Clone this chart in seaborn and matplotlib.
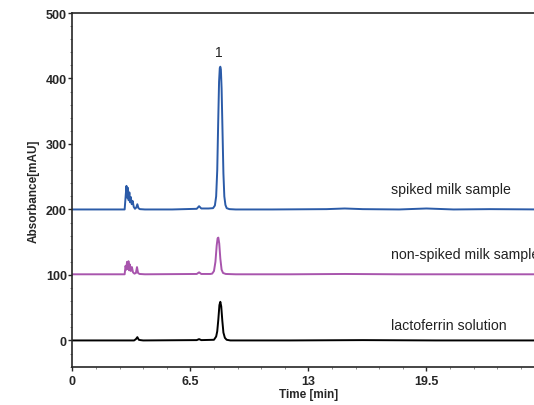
import matplotlib
matplotlib.use('Agg')
import matplotlib.pyplot as plt
import numpy as np
import pandas as pd
import seaborn as sns
from matplotlib.ticker import MultipleLocator

sns.set_style('ticks')
plt.rcParams['font.family'] = ['Liberation Sans', 'DejaVu Sans']

# spiked milk sample (blue trace), time [min] / absorbance [mAU]
spiked_t = [0, 1.5, 2.88, 2.94, 2.98, 3.02, 3.06, 3.1, 3.14, 3.18, 3.22, 3.27, 3.32,
            3.38, 3.45, 3.52, 3.58, 3.64, 3.72, 4.0, 5.5, 6.85, 6.98, 7.1, 7.5, 7.75,
            7.85, 7.92, 7.98, 8.03, 8.08, 8.12, 8.15, 8.18, 8.22, 8.27, 8.32, 8.37,
            8.43, 8.5, 8.65, 9.0, 11, 14, 15, 16, 18, 19.5, 21, 23, 26]
spiked_y = [200, 200, 200, 222, 236, 218, 233, 214, 226, 211, 219, 208, 213,
            204, 201, 203, 208, 202, 200.5, 200, 200, 201, 205, 201.5, 201.5, 202,
            206, 220, 260, 330, 395, 416, 418, 414, 385, 320, 255, 220,
            207, 202, 200.5, 200, 200, 200.5, 201.5, 200.5, 200, 201.5, 200, 200.5, 200]

# non-spiked milk sample (purple trace)
nonspiked_t = [0, 1.5, 2.88, 2.93, 2.97, 3.01, 3.05, 3.09, 3.13, 3.17, 3.22, 3.28,
               3.34, 3.42, 3.5, 3.56, 3.62, 3.7, 4.0, 6.85, 6.98, 7.1, 7.6, 7.7,
               7.8, 7.88, 7.95, 8.0, 8.04, 8.09, 8.15, 8.22, 8.3, 8.45, 9.0, 12,
               15, 18, 21, 26]
nonspiked_y = [101, 101, 101, 114, 108, 120, 109, 121, 107, 116, 106, 112,
               104, 102, 103, 112, 103, 101.5, 101, 101.5, 104, 101.5, 101.5, 102,
               106, 120, 145, 156, 157, 148, 125, 108, 103, 101.5, 101, 101,
               101.5, 101, 101, 101]

# lactoferrin solution (black trace)
lacto_t = [0, 2.0, 3.4, 3.5, 3.58, 3.66, 3.75, 3.9, 6.85, 6.98, 7.1, 7.8, 7.92, 7.98,
           8.04, 8.1, 8.15, 8.2, 8.26, 8.32, 8.4, 8.5, 8.7, 12, 16, 20, 26]
lacto_y = [0, 0, 0, 2, 5, 1, 0.5, 0, 0.5, 2, 0.5, 1, 6, 14,
           32, 54, 59, 52, 30, 12, 4, 1, 0, 0, 0.5, 0, 0]

labels = ['spiked milk sample', 'non-spiked milk sample', 'lactoferrin solution']
label_pos = [(17.55, 231), (17.55, 132), (17.55, 24)]
peak_label = ('1', 8.05, 440)
colors = ['#2b5ba8', '#a855ad', '#000000']

df = pd.concat([
    pd.DataFrame({'t': spiked_t, 'a': spiked_y, 's': labels[0]}),
    pd.DataFrame({'t': nonspiked_t, 'a': nonspiked_y, 's': labels[1]}),
    pd.DataFrame({'t': lacto_t, 'a': lacto_y, 's': labels[2]}),
])

fig = plt.figure(figsize=(5.34, 4.06), dpi=100)
ax = fig.add_axes([0.1355, 0.0945, 0.884, 0.871])
sns.lineplot(data=df, x='t', y='a', hue='s', palette=colors, linewidth=1.4,
             legend=False, estimator=None, sort=False, ax=ax)

# the reference image is cropped on the right, so the last label runs off the edge
for (lx, ly), txt in zip(label_pos, labels):
    ax.text(lx, ly, txt, fontsize=10.2, color='#222222', va='center', ha='left')
ax.text(peak_label[1], peak_label[2], peak_label[0], fontsize=10, color='#222222',
        ha='center', va='center')

ax.set_xlim(0, 26)
ax.set_ylim(-40, 500)
ax.set_xticks([0, 6.5, 13, 19.5])
ax.set_xticklabels(['0', '6.5', '13', '19.5'])
ax.set_yticks([0, 100, 200, 300, 400, 500])
ax.xaxis.set_minor_locator(MultipleLocator(1.3))
ax.yaxis.set_minor_locator(MultipleLocator(20))
ax.tick_params(which='major', length=3, width=1, labelsize=9)
ax.tick_params(axis='x', which='major', pad=3)
ax.tick_params(axis='y', which='major', pad=1)
ax.tick_params(which='minor', length=1.5, width=0.6, color='#777777')
for lab in ax.get_xticklabels() + ax.get_yticklabels():
    lab.set_fontweight('bold')
ax.set_xlabel('Time [min]', fontsize=8.5, fontweight='bold', labelpad=1)
ax.set_ylabel('Absorbance[mAU]', fontsize=8.5, fontweight='bold', labelpad=4)
for sp in ax.spines.values():
    sp.set_linewidth(1.2)
    sp.set_visible(True)

fig.savefig('out.png', dpi=100)
